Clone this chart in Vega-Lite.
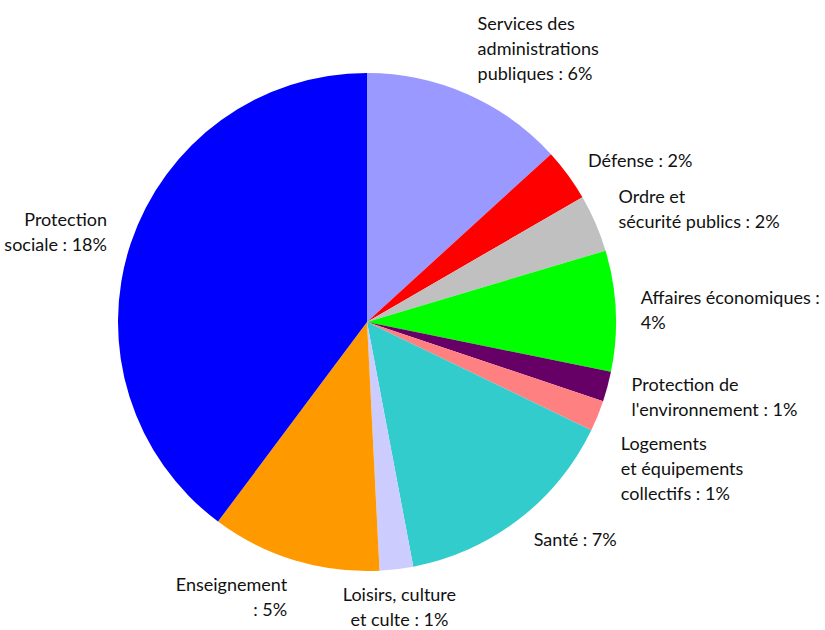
{
  "$schema": "https://vega.github.io/schema/vega-lite/v6.json",
  "width": 734,
  "height": 644,
  "autosize": {"type": "none"},
  "padding": {"left": 0, "top": 0, "right": 91, "bottom": 0},
  "background": "white",
  "config": {"view": {"stroke": null}},
  "data": {
    "values": [
      {"ordre": 1, "categorie": "Services des administrations publiques", "valeur": 6.2, "label": ["Services des", "administrations", "publiques : 6%"]},
      {"ordre": 2, "categorie": "Défense", "valeur": 1.6, "label": ["Défense : 2%"]},
      {"ordre": 3, "categorie": "Ordre et sécurité publics", "valeur": 1.75, "label": ["Ordre et", "sécurité publics : 2%"]},
      {"ordre": 4, "categorie": "Affaires économiques", "valeur": 3.67, "label": ["Affaires économiques :", "4%"]},
      {"ordre": 5, "categorie": "Protection de l'environnement", "valeur": 0.91, "label": ["Protection de", "l'environnement : 1%"]},
      {"ordre": 6, "categorie": "Logements et équipements collectifs", "valeur": 0.94, "label": ["Logements", "et équipements", "collectifs : 1%"]},
      {"ordre": 7, "categorie": "Santé", "valeur": 6.97, "label": ["Santé : 7%"]},
      {"ordre": 8, "categorie": "Loisirs, culture et culte", "valeur": 1.02, "label": ["Loisirs, culture", "et culte : 1%"]},
      {"ordre": 9, "categorie": "Enseignement", "valeur": 5.16, "label": ["Enseignement", ": 5%"]},
      {"ordre": 10, "categorie": "Protection sociale", "valeur": 18.65, "label": ["Protection", "sociale : 18%"]}
    ]
  },
  "transform": [
    {"joinaggregate": [{"op": "sum", "field": "valeur", "as": "total"}]}
  ],
  "encoding": {
    "theta": {"field": "valeur", "type": "quantitative", "stack": true},
    "order": {"field": "ordre", "type": "quantitative"}
  },
  "layer": [
    {
      "mark": {"type": "arc", "radius": 249, "stroke": null},
      "encoding": {
        "color": {
          "field": "categorie",
          "type": "nominal",
          "legend": null,
          "scale": {
            "domain": ["Services des administrations publiques", "Défense", "Ordre et sécurité publics", "Affaires économiques", "Protection de l'environnement", "Logements et équipements collectifs", "Santé", "Loisirs, culture et culte", "Enseignement", "Protection sociale"],
            "range": ["#9999FF", "#FF0000", "#C0C0C0", "#00FF00", "#660066", "#FF8080", "#33CCCC", "#CCCCFF", "#FF9900", "#0000FF"]
          }
        }
      }
    },
    {
      "mark": {
        "type": "text",
        "radius": 274,
        "font": "Lato",
        "fontSize": 18,
        "lineHeight": 25,
        "fill": "#111111",
        "baseline": "middle",
        "dy": {"expr": "datum.categorie === 'Logements et équipements collectifs' ? 20 : 2 - (length(datum.label) - 1) * 12.5 * (1 + cos(PI * (datum.valeur_start + datum.valeur_end) / datum.total))"},
        "align": {"expr": "datum.categorie === 'Loisirs, culture et culte' ? 'center' : ((datum.categorie === 'Enseignement' || datum.categorie === 'Protection sociale') ? 'right' : 'left')"}
      },
      "encoding": {
        "text": {"field": "label"}
      }
    }
  ]
}
